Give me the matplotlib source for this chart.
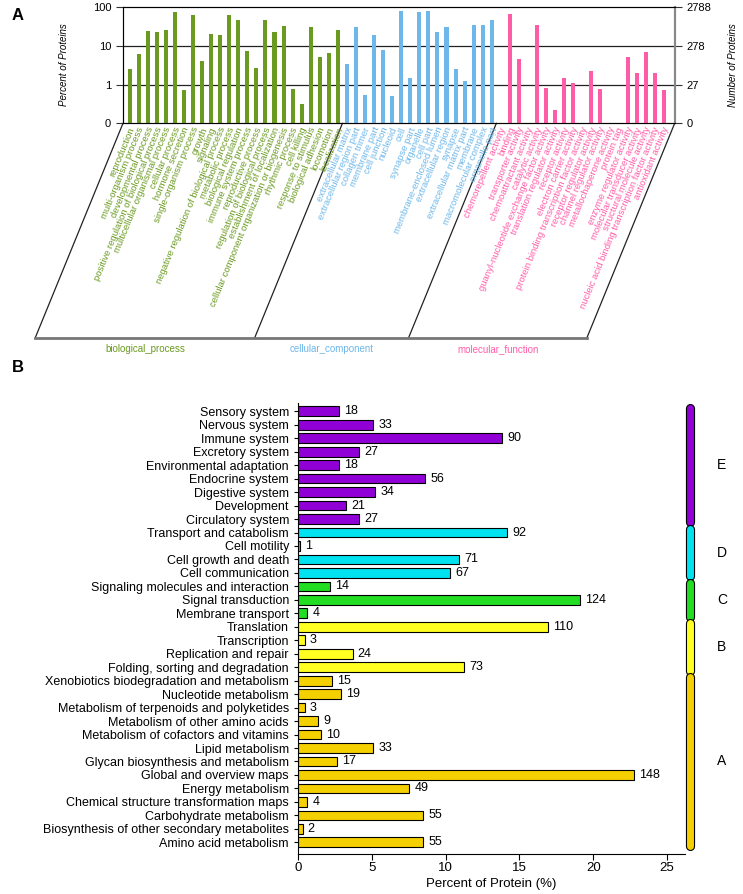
import numpy as np
import matplotlib
matplotlib.use('Agg')
import matplotlib.pyplot as plt
import matplotlib.transforms as mtransforms
import matplotlib.patheffects as pe

plt.rcParams['font.family'] = ['Liberation Sans', 'DejaVu Sans']

# ---- panel A data (GO level 2, percent of proteins) ----
bp_terms = ['reproduction', 'multi-organism process', 'developmental process',
            'positive regulation of biological process', 'multicellular organismal process',
            'cellular process', 'hormone secretion', 'single-organism process', 'growth',
            'signaling', 'negative regulation of biological process', 'metabolic process',
            'biological regulation', 'immune system process', 'reproductive process',
            'regulation of biological process', 'establishment of localization',
            'cellular component organization or biogenesis', 'rhythmic process', 'cell killing',
            'response to stimulus', 'biological adhesion', 'locomotion', 'localization']
bp_pct = [2.5, 6.1, 24, 22, 25, 72, 0.73, 61, 4.0, 20, 19, 63, 47, 7.2, 2.6, 45, 22, 33,
          0.77, 0.32, 29.5, 5.2, 6.6, 26]

cc_terms = ['extracellular matrix', 'extracellular region part', 'collagen trimer',
            'membrane part', 'cell junction', 'nucleoid', 'cell', 'synapse part', 'organelle',
            'cell part', 'membrane-enclosed lumen', 'extracellular region', 'synapse',
            'extracellular matrix part', 'membrane', 'macromolecular complex', 'organelle part']
cc_pct = [3.4, 29.5, 0.55, 19, 7.7, 0.52, 79, 1.5, 72, 79, 22.4, 30, 2.57, 1.24, 35, 34.6, 45]

mf_terms = ['chemorepellent activity', 'binding', 'transporter activity',
            'chemoattractant activity', 'catalytic activity',
            'guanyl-nucleotide exchange factor activity', 'translation regulator activity',
            'receptor activity', 'electron carrier activity',
            'protein binding transcription factor activity', 'receptor regulator activity',
            'channel regulator activity', 'metallochaperone activity', 'protein tag',
            'enzyme regulator activity', 'molecular transducer activity',
            'structural molecule activity', 'nucleic acid binding transcription factor activity',
            'antioxidant activity']
mf_pct = [0, 67, 4.6, 0, 34.5, 0.8, 0.215, 1.43, 1.12, 0.105, 2.24, 0.78, 0.105, 0.105,
          5.2, 2.0, 7.0, 2.03, 0.74]

left_ticks = ['0', '1', '10', '100']
right_ticks = ['0', '27', '278', '2788']
go_groups = ['biological_process', 'cellular_component', 'molecular_function']

# ---- panel B data (KEGG pathways), top to bottom ----
kegg_terms = ['Sensory system', 'Nervous system', 'Immune system', 'Excretory system',
              'Environmental adaptation', 'Endocrine system', 'Digestive system', 'Development',
              'Circulatory system',
              'Transport and catabolism', 'Cell motility', 'Cell growth and death',
              'Cell communication',
              'Signaling molecules and interaction', 'Signal transduction', 'Membrane transport',
              'Translation', 'Transcription', 'Replication and repair',
              'Folding, sorting and degradation',
              'Xenobiotics biodegradation and metabolism', 'Nucleotide metabolism',
              'Metabolism of terpenoids and polyketides', 'Metabolism of other amino acids',
              'Metabolism of cofactors and vitamins', 'Lipid metabolism',
              'Glycan biosynthesis and metabolism', 'Global and overview maps',
              'Energy metabolism', 'Chemical structure transformation maps',
              'Carbohydrate metabolism', 'Biosynthesis of other secondary metabolites',
              'Amino acid metabolism']
kegg_counts = [18, 33, 90, 27, 18, 56, 34, 21, 27,
               92, 1, 71, 67,
               14, 124, 4,
               110, 3, 24, 73,
               15, 19, 3, 9, 10, 33, 17, 148, 49, 4, 55, 2, 55]
kegg_group = ['E'] * 9 + ['D'] * 4 + ['C'] * 3 + ['B'] * 4 + ['A'] * 13
kegg_total = 650

green = '#6A9A1F'
blue = '#6DB7EA'
pink = '#FF5CA8'
group_cols = {'E': '#9000D6', 'D': '#00E2F0', 'C': '#22DD22', 'B': '#FFFF22', 'A': '#F4D000'}

fig = plt.figure(figsize=(7.43, 8.94), dpi=100)

# ================= panel A =================
axA = fig.add_axes([0.1655, 0.862, 0.7425, 0.1304])
vals = bp_pct + cc_pct + mf_pct
terms = bp_terms + cc_terms + mf_terms
cols = [green] * len(bp_pct) + [blue] * len(cc_pct) + [pink] * len(mf_pct)
x = np.arange(len(vals))
heights = [max(v - 0.1, 0) for v in vals]
axA.bar(x, heights, bottom=0.1, width=0.45, color=cols, zorder=3)
axA.set_yscale('log')
axA.set_ylim(0.1, 100)
axA.set_xlim(-0.74, len(vals) + 0.2)
axA.set_yticks([0.1, 1, 10, 100])
axA.set_yticklabels(left_ticks, fontsize=8)
axA.minorticks_off()
axA.set_xticks([])
for yv in [1, 10]:
    axA.axhline(yv, color='#222222', lw=0.9, zorder=2)
for s in ['top', 'left', 'bottom']:
    axA.spines[s].set_color('#333333')
axA.spines['right'].set_color('#888888')
axA.spines['right'].set_linewidth(1.5)
axA.tick_params(axis='y', length=5, direction='out', color='#333333')
axA.set_ylabel('Percent of Proteins', fontsize=7, style='italic', labelpad=17)

axR = axA.twinx()
axR.set_yscale('log')
axR.set_ylim(0.1, 100)
axR.set_yticks([0.1, 1, 10, 100])
axR.set_yticklabels(right_ticks, fontsize=8)
axR.minorticks_off()
axR.tick_params(axis='y', length=5, direction='out', color='#333333')
axR.spines['right'].set_color('#888888')
axR.spines['right'].set_linewidth(1.5)
axR.set_ylabel('Number of Proteins', fontsize=7, style='italic', labelpad=12)

trA = mtransforms.blended_transform_factory(axA.transData, axA.transAxes)
ang = 67.7
for xi, t, c in zip(x, terms, cols):
    axA.text(xi + 0.3, -0.035, t, transform=trA, rotation=ang, rotation_mode='anchor',
             ha='right', va='center', fontsize=6.8, color=c)

# slanted frame under the labels
ybot = -1.841
shift = -9.7
n1 = len(bp_pct)
n2 = n1 + len(cc_pct)
edges = [-0.74, n1 - 0.5, n2 - 0.5, len(vals) + 0.2]
for e in edges:
    axA.plot([e, e + shift], [0, ybot], color='#222222', lw=0.9, transform=trA, clip_on=False)
axA.plot([edges[0] + shift, edges[-1] + shift], [ybot, ybot], color='#777777', lw=2,
         transform=trA, clip_on=False)
for k, (g, c) in enumerate(zip(go_groups, [green, blue, pink])):
    xc = (edges[k] + edges[k + 1]) / 2 + shift
    axA.text(xc, -1.936, g, transform=trA, ha='center', va='center', fontsize=7, color=c)

fig.text(0.016, 0.983, 'A', fontsize=12, fontweight='bold', va='center')

# ================= panel B =================
axB = fig.add_axes([0.4011, 0.0450, 0.5205, 0.5040])
n = len(kegg_terms)
yy = np.arange(n)[::-1]
pct = [c / kegg_total * 100 for c in kegg_counts]
bcols = [group_cols[g] for g in kegg_group]
axB.barh(yy, pct, height=0.72, color=bcols, edgecolor='black', linewidth=0.8)
for yi, p, c in zip(yy, pct, kegg_counts):
    axB.text(p + 0.35, yi, str(c), va='center', ha='left', fontsize=9)
axB.set_yticks(yy)
axB.set_yticklabels(kegg_terms, fontsize=9)
axB.set_ylim(-0.85, n - 0.4)
axB.set_xlim(0, 26.2)
axB.set_xticks([0, 5, 10, 15, 20, 25])
axB.tick_params(axis='x', labelsize=9.5, length=4, pad=2)
axB.tick_params(axis='y', length=3)
axB.spines['top'].set_visible(False)
axB.spines['right'].set_visible(False)
axB.set_xlabel('Percent of Protein (%)', fontsize=9.5, labelpad=3)

trB = mtransforms.blended_transform_factory(axB.transAxes, axB.transData)
for g in ['E', 'D', 'C', 'B', 'A']:
    rows = [yi for yi, gg in zip(yy, kegg_group) if gg == g]
    lo, hi = min(rows) - 0.25, max(rows) + 0.25
    axB.plot([1.0137, 1.0137], [lo, hi], color=group_cols[g], lw=5, solid_capstyle='round',
             transform=trB, clip_on=False,
             path_effects=[pe.Stroke(linewidth=6.6, foreground='black'), pe.Normal()])
    axB.text(1.096, (lo + hi) / 2, g, transform=trB, ha='center', va='center', fontsize=10)

fig.text(0.016, 0.589, 'B', fontsize=12, fontweight='bold', va='center')

fig.savefig('out.png', dpi=100)
